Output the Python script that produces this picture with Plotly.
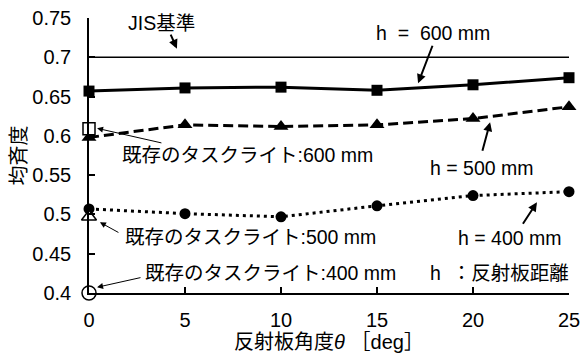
import plotly.graph_objects as go

angles = [0, 5, 10, 15, 20, 25]
h600 = [0.657, 0.661, 0.662, 0.658, 0.665, 0.674]
h500 = [0.598, 0.614, 0.612, 0.614, 0.622, 0.637]
h400 = [0.507, 0.501, 0.497, 0.511, 0.524, 0.529]
jis_level = 0.70
existing_x = [0]
existing600 = [0.609]
existing500 = [0.497]
existing400 = [0.400]
ytick_vals = [0.4, 0.45, 0.5, 0.55, 0.6, 0.65, 0.7, 0.75]
ytick_text = ["0.4", "0.45", "0.5", "0.55", "0.6", "0.65", "0.7", "0.75"]
xtick_vals = [0, 5, 10, 15, 20, 25]

FONT = "Liberation Sans, Arial, Noto Sans CJK JP"
fig = go.Figure()

fig.add_trace(go.Scatter(x=[angles[0], angles[-1]], y=[jis_level, jis_level], mode="lines",
                         line=dict(color="black", width=1.5), cliponaxis=False, showlegend=False))
fig.add_trace(go.Scatter(x=angles, y=h600, mode="lines+markers",
                         line=dict(color="black", width=3),
                         marker=dict(symbol="square", size=11, color="black"),
                         cliponaxis=False, showlegend=False))
fig.add_trace(go.Scatter(x=angles, y=h500, mode="lines+markers",
                         line=dict(color="black", width=3, dash="10px,5px"),
                         marker=dict(symbol="triangle-up", size=13, color="black"),
                         cliponaxis=False, showlegend=False))
fig.add_trace(go.Scatter(x=angles, y=h400, mode="lines+markers",
                         line=dict(color="black", width=3, dash="3px,4px"),
                         marker=dict(symbol="circle", size=11, color="black"),
                         cliponaxis=False, showlegend=False))
fig.add_trace(go.Scatter(x=existing_x, y=existing600, mode="markers",
                         marker=dict(symbol="square", size=12, color="white",
                                     line=dict(color="black", width=1.5)),
                         cliponaxis=False, showlegend=False))
fig.add_trace(go.Scatter(x=existing_x, y=existing500, mode="markers",
                         marker=dict(symbol="triangle-up", size=13, color="white",
                                     line=dict(color="black", width=1.5)),
                         cliponaxis=False, showlegend=False))
fig.add_trace(go.Scatter(x=existing_x, y=existing400, mode="markers",
                         marker=dict(symbol="circle", size=14, color="white",
                                     line=dict(color="black", width=1.5)),
                         cliponaxis=False, showlegend=False))

texts = [
    ("JIS基準", 3.75, 0.7437),
    ("h  =  600 mm", 17.92, 0.7305),
    ("既存のタスクライト:600 mm", 8.23, 0.5753),
    ("h = 500 mm", 20.47, 0.5587),
    ("既存のタスクライト:500 mm", 8.39, 0.4709),
    ("h = 400 mm", 21.93, 0.4696),
    ("既存のタスクライト:400 mm", 9.43, 0.425),
    ("h  ：反射板距離", 21.4, 0.425),
]
for t, x, y in texts:
    fig.add_annotation(text=t, x=x, y=y, xref="x", yref="y", showarrow=False,
                       font=dict(family=FONT, size=19.5, color="black"))

arrows = [
    (4.22, 0.7307, 4.58, 0.711, 2),
    (17.92, 0.7166, 17.14, 0.667, 2),
    (3.85, 0.5906, 0.42, 0.6096, 1),
    (20.47, 0.579, 20.89, 0.6173, 2),
    (1.61, 0.476, 0.57, 0.490, 1),
    (22.55, 0.4862, 23.33, 0.5154, 2),
    (2.76, 0.420, 0.42, 0.4073, 1),
]
for ax, ay, x, y, w in arrows:
    fig.add_annotation(text="", x=x, y=y, ax=ax, ay=ay, xref="x", yref="y",
                       axref="x", ayref="y", showarrow=True, arrowhead=2,
                       arrowsize=1.2 if w == 1 else 0.9, arrowwidth=w, arrowcolor="black",
                       standoff=0, startstandoff=0)

fig.update_layout(
    width=581, height=354,
    margin=dict(l=89, r=12, t=18, b=61),
    paper_bgcolor="white", plot_bgcolor="white",
    font=dict(family=FONT, size=20, color="black"),
    xaxis=dict(range=[0, 25], tickvals=xtick_vals, ticks="inside", ticklen=6,
               tickwidth=1.5, tickcolor="black", showline=True, linecolor="black",
               linewidth=1.5, showgrid=False, zeroline=False, ticklabelstandoff=8,
               automargin=False, tickfont=dict(size=20),
               title=dict(text="反射板角度<i>θ</i> ［deg］", standoff=4,
                          font=dict(family=FONT, size=20))),
    yaxis=dict(range=[0.4, 0.75], tickvals=ytick_vals, ticktext=ytick_text,
               ticks="inside", ticklen=6, tickwidth=1.5, tickcolor="black",
               showline=True, linecolor="black", linewidth=1.5, showgrid=False,
               zeroline=False, ticklabelstandoff=12, automargin=False,
               tickfont=dict(size=20),
               title=dict(text="均斉度", standoff=0, font=dict(family=FONT, size=20))),
)
fig.write_html("out.html", config={"displayModeBar": False},
               post_script="document.body.style.margin='0';document.body.style.overflow='hidden';")
